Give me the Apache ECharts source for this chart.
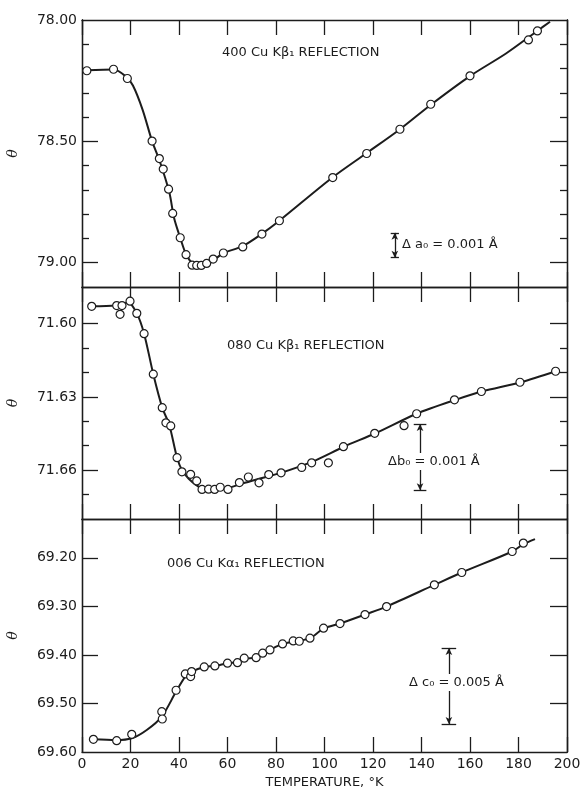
<!DOCTYPE html>
<html>
<head>
<meta charset="utf-8">
<script src="https://cdn.jsdelivr.net/npm/echarts@6/dist/echarts.min.js"></script>
<style>
  html, body { margin: 0; background: #fff; }
  #chart { width: 582px; height: 792px; }
</style>
</head>
<body>
<div id="chart"></div>
<script>
// 400 Cu Kβ1 反射 - 测点
const t400 = [2, 13, 18.7, 28.9, 31.9, 33.5, 35.7, 37.4, 40.5, 42.9, 45.4, 47.3, 49.2, 51.4, 54.1, 58.3, 66.3, 74.2, 81.4, 103.4, 117.4, 131.1, 143.8, 160.0, 184.1, 187.8];
const th400 = [78.209, 78.203, 78.241, 78.499, 78.571, 78.614, 78.697, 78.797, 78.897, 78.967, 79.010, 79.011, 79.011, 79.003, 78.985, 78.960, 78.935, 78.882, 78.827, 78.649, 78.550, 78.450, 78.347, 78.230, 78.082, 78.045];
// 400 拟合曲线
const fitT400 = [2, 13, 18, 21, 25, 28.9, 32, 36, 38, 40.5, 43, 46, 49, 53, 58, 66, 74, 81, 103, 117, 131, 144, 160, 175, 188, 193];
const fitTh400 = [78.207, 78.204, 78.232, 78.27, 78.37, 78.499, 78.58, 78.71, 78.817, 78.897, 78.967, 79.006, 79.012, 79.0, 78.962, 78.933, 78.882, 78.83, 78.651, 78.551, 78.451, 78.348, 78.231, 78.137, 78.043, 78.007];

// 080 Cu Kβ1
const t080 = [4.0, 14.3, 15.7, 16.5, 19.8, 22.6, 25.6, 29.4, 33.1, 34.6, 36.6, 39.2, 41.2, 44.8, 47.3, 49.5, 52.2, 54.7, 57.0, 60.2, 64.9, 68.6, 73.0, 77.0, 82.1, 90.6, 94.7, 101.6, 107.8, 120.7, 132.8, 138.0, 153.6, 164.7, 180.6, 195.3];
const th080 = [71.5929, 71.5926, 71.5962, 71.5926, 71.5908, 71.5958, 71.6041, 71.6207, 71.6344, 71.6406, 71.6419, 71.6549, 71.6607, 71.6617, 71.6644, 71.6679, 71.6678, 71.6679, 71.6670, 71.6679, 71.6651, 71.6628, 71.6652, 71.6618, 71.6611, 71.6589, 71.6570, 71.6570, 71.6504, 71.6449, 71.6418, 71.6369, 71.6312, 71.6278, 71.6240, 71.6195];
const fitT080 = [4, 14, 19, 22.6, 25.6, 29.4, 33.1, 36, 39.2, 41.5, 44, 47, 50, 55, 60, 66, 72, 82, 95, 108, 121, 138, 154, 165, 181, 195.3];
const fitTh080 = [71.5929, 71.5926, 71.5915, 71.5958, 71.6041, 71.6207, 71.6344, 71.6415, 71.6549, 71.6605, 71.6635, 71.6660, 71.6677, 71.6680, 71.6674, 71.6655, 71.6638, 71.6611, 71.6565, 71.6504, 71.6449, 71.6369, 71.6312, 71.6278, 71.6240, 71.6195];

// 006 Cu Kα1
const t006 = [4.7, 14.3, 20.5, 32.9, 33.1, 38.8, 42.6, 44.8, 45.2, 50.4, 54.8, 60.0, 64.1, 66.9, 71.8, 74.5, 77.5, 82.7, 87.1, 89.6, 94.0, 99.6, 106.4, 116.7, 125.6, 145.3, 156.6, 177.4, 182.0];
const th006 = [69.5738, 69.5767, 69.5635, 69.5169, 69.5320, 69.4728, 69.4392, 69.4447, 69.4344, 69.4247, 69.4227, 69.4171, 69.4159, 69.4068, 69.4056, 69.3965, 69.3897, 69.3773, 69.3711, 69.3718, 69.3656, 69.3450, 69.3354, 69.3169, 69.3004, 69.2557, 69.2302, 69.1870, 69.1697];
const fitT006 = [4.7, 14, 20.5, 26.7, 32.9, 38.8, 42.6, 45.2, 50.4, 55, 60, 64, 67, 72, 77.5, 82.7, 89, 94, 99.6, 106.4, 116.7, 125.6, 145.3, 156.6, 177.4, 182, 186.8];
const fitTh006 = [69.5738, 69.5755, 69.5718, 69.5546, 69.527, 69.4756, 69.4447, 69.4344, 69.4247, 69.4227, 69.4171, 69.4150, 69.4080, 69.4050, 69.3897, 69.3773, 69.3715, 69.3656, 69.3460, 69.3354, 69.3169, 69.3004, 69.2557, 69.2302, 69.1870, 69.1720, 69.1614];

// y轴刻度
const yMin = [78.0, 71.585, 69.12];
const yMax = [79.1, 71.680, 69.60];
const yLabels = [[78.0, 78.5, 79.0], [71.60, 71.63, 71.66], [69.2, 69.3, 69.4, 69.5, 69.6]];
const yMinorTicks = [[78.1, 78.2, 78.3, 78.4, 78.6, 78.7, 78.8, 78.9], [71.61, 71.62, 71.64, 71.65, 71.67], []];

// 比例尺 (Δa0, Δb0, Δc0)
const barT = [129, 139.4, 151.3];
const barTop = [78.877, 71.6411, 69.3856];
const barBottom = [78.979, 71.6682, 69.5423];
const barCap = [1.7, 2.6, 3];

const INK = "#1c1c1c";
const FONT = "DejaVu Sans";
const grids = [
  { left: 82, right: 15, top: 20, height: 267, outerBoundsMode: "none" },
  { left: 82, right: 15, top: 287, height: 232, outerBoundsMode: "none" },
  { left: 82, right: 15, top: 519, height: 233, outerBoundsMode: "none" }
];

function zip(xs, ys) {
  return xs.map((x, i) => [x, ys[i]]);
}

//x轴: 每个面板上下各一条
function xAxisItem(g, position, withLabels) {
  return {
    gridIndex: g,
    type: "value",
    position: position,
    min: 0,
    max: 200,
    interval: 20,
    axisLine: { lineStyle: { color: INK, width: 1.3 } },
    axisTick: { inside: true, length: 15, lineStyle: { color: INK, width: 1.3 } },
    axisLabel: { show: withLabels, color: INK, fontFamily: FONT, fontSize: 14, margin: 5 },
    splitLine: { show: false },
    name: withLabels ? "TEMPERATURE, °K" : "",
    nameLocation: "middle",
    nameGap: 24,
    nameTextStyle: { color: INK, fontFamily: FONT, fontSize: 13 }
  };
}

//y轴: 主刻度(带标签) + 次刻度
function yAxisItem(g, position, ticks, len, withLabels) {
  return {
    gridIndex: g,
    type: "value",
    inverse: true,
    position: position,
    min: yMin[g],
    max: yMax[g],
    axisLine: { show: true, lineStyle: { color: INK, width: 1.3 } },
    axisTick: { show: ticks.length > 0, inside: true, length: len, customValues: ticks, lineStyle: { color: INK, width: 1.3 } },
    axisLabel: {
      show: withLabels,
      customValues: yLabels[g],
      formatter: v => v.toFixed(2),
      color: INK,
      fontFamily: FONT,
      fontSize: 14,
      margin: 5
    },
    splitLine: { show: false },
    name: withLabels ? "θ" : "",
    nameLocation: "middle",
    nameRotate: 90,
    nameGap: 62,
    nameTextStyle: { color: INK, fontFamily: "DejaVu Serif", fontStyle: "italic", fontSize: 14 }
  };
}

function scaleBar(i) {
  const t = barT[i], a = barTop[i], b = barBottom[i], w = barCap[i];
  return [
    [{ coord: [t, a] }, { coord: [t, b] }],
    [{ coord: [t - w, a], symbol: "none" }, { coord: [t + w, a], symbol: "none" }],
    [{ coord: [t - w, b], symbol: "none" }, { coord: [t + w, b], symbol: "none" }]
  ];
}

const xAxis = [];
const yAxis = [];
const series = [];
const fits = [zip(fitT400, fitTh400), zip(fitT080, fitTh080), zip(fitT006, fitTh006)];
const points = [zip(t400, th400), zip(t080, th080), zip(t006, th006)];

for (let g = 0; g < 3; g++) {
  xAxis.push(xAxisItem(g, "bottom", g === 2));
  xAxis.push(xAxisItem(g, "top", false));
  const major = yLabels[g].filter(v => v > yMin[g] && v < yMax[g]);
  yAxis.push(yAxisItem(g, "left", major, 16, true));
  yAxis.push(yAxisItem(g, "left", yMinorTicks[g], 7, false));
  yAxis.push(yAxisItem(g, "right", major, 17, false));
  yAxis.push(yAxisItem(g, "right", yMinorTicks[g], 7, false));

  series.push({
    type: "line",
    xAxisIndex: g * 2,
    yAxisIndex: g * 4,
    data: fits[g],
    smooth: 0.3,
    symbol: "none",
    lineStyle: { color: INK, width: 2 },
    z: 2,
    markLine: {
      silent: true,
      symbol: ["arrow", "arrow"],
      symbolSize: [5, 7],
      label: { show: false },
      lineStyle: { color: INK, width: 1.3, type: "solid" },
      emphasis: { disabled: true },
      data: scaleBar(g)
    }
  });
  series.push({
    type: "scatter",
    xAxisIndex: g * 2,
    yAxisIndex: g * 4,
    data: points[g],
    symbol: "circle",
    symbolSize: 8,
    itemStyle: { color: "#fff", borderColor: INK, borderWidth: 1.2, opacity: 1 },
    z: 3
  });
}

function note(left, top, text, bg) {
  return {
    type: "text",
    left: left,
    top: top,
    z: 100,
    style: {
      text: text,
      fill: INK,
      font: "13px '" + FONT + "'",
      backgroundColor: bg ? "#fff" : null,
      padding: bg ? [2, 2] : 0
    }
  };
}

const option = {
  animation: false,
  backgroundColor: "#fff",
  grid: grids,
  xAxis: xAxis,
  yAxis: yAxis,
  series: series,
  graphic: [
    note(222, 46, "400 Cu Kβ₁ REFLECTION"),
    note(227, 339, "080 Cu Kβ₁ REFLECTION"),
    note(167, 557, "006 Cu Kα₁ REFLECTION"),
    note(402, 238, "Δ a₀ = 0.001 Å"),
    note(386, 453, "Δb₀ = 0.001 Å", true),
    note(407, 674, "Δ c₀ = 0.005 Å", true)
  ]
};

const chart = echarts.init(document.getElementById("chart"));
chart.setOption(option);
</script>
</body>
</html>
